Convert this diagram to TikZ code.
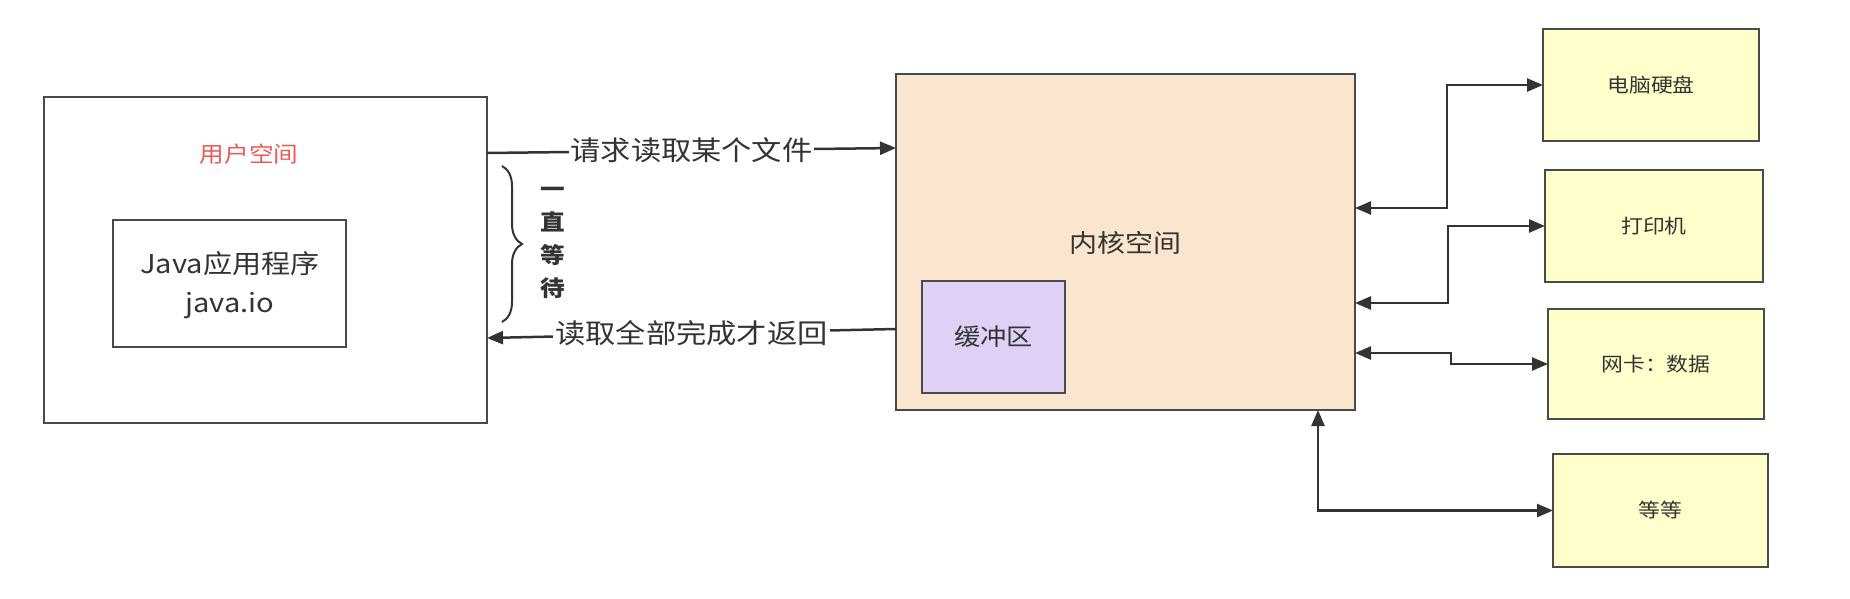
\documentclass[tikz,border=0pt]{standalone}
\usepackage{fontspec}
\setmainfont{Noto Sans CJK SC}[FakeStretch=1.12]
\usetikzlibrary{arrows.meta,decorations.pathreplacing}
\definecolor{kfill}{HTML}{FAE5CE}
\definecolor{yfill}{HTML}{FFFFCC}
\definecolor{pfill}{HTML}{DFD0F5}
\definecolor{edge}{HTML}{4A4A4A}
\definecolor{ink}{HTML}{333333}
\definecolor{redtxt}{HTML}{EA5A56}
\newcommand{\fs}[1]{\fontsize{#1pt}{#1pt}\selectfont}
\tikzset{
  box/.style={draw=edge, line width=2.5pt, inner sep=0pt, outer sep=0pt, text=ink, align=center},
  conn/.style={draw=ink, line width=2.5pt, -{Triangle[length=16pt,width=13pt]}},
  biconn/.style={draw=ink, line width=2.5pt, {Triangle[length=16pt,width=13pt]}-{Triangle[length=16pt,width=13pt]}},
  lbl/.style={fill=white, text=ink, inner sep=2pt, font=\fs{27}},
}
\begin{document}
\begin{tikzpicture}[x=1pt,y=-1pt]
\useasboundingbox (0,0) rectangle (1850,598);
% user space
\node[box, minimum width=443pt, minimum height=326pt] (user) at (265.5,260) {};
\node[text=redtxt, font=\fs{22}] (usertxt) at (249,154) {用户空间};
\node[box, minimum width=233pt, minimum height=127pt] (app) at (229.5,283.5) {};
\node[text=ink, font=\fontsize{26pt}{39pt}\selectfont, align=center, inner sep=0pt] (apptxt) at (230,285) {Java应用程序\\java.io};
% kernel
\node[box, fill=kfill, minimum width=459pt, minimum height=336pt] (kernel) at (1125.5,242) {};
\node[text=ink, font=\fs{25}] (kerneltxt) at (1125,243) {内核空间};
\node[box, fill=pfill, minimum width=143pt, minimum height=112pt, font=\fs{23.5}] (buf) at (993.5,337) {缓冲区};
% devices
\node[box, fill=yfill, minimum width=216pt, minimum height=112pt, font=\fs{19.5}] (hdd) at (1651,85) {电脑硬盘};
\node[box, fill=yfill, minimum width=218pt, minimum height=112pt, font=\fs{19.5}] (prn) at (1654,226) {打印机};
\node[box, fill=yfill, minimum width=216pt, minimum height=110pt, font=\fs{19.5}] (nic) at (1656,364) {网卡：数据};
\node[box, fill=yfill, minimum width=215pt, minimum height=113pt, font=\fs{19.5}] (etc) at (1660.5,510.5) {等等};
% request / return
\draw[conn] (user.east |- 0,153) -- node[lbl] (req) {请求读取某个文件} (kernel.west |- 0,148);
\draw[conn] (kernel.west |- 0,329) -- node[lbl] (ret) {读取全部完成才返回} (user.east |- 0,338);
% brace and waiting text
\draw[draw=ink, line width=2pt, decorate, decoration={brace, amplitude=20pt, aspect=0.5}] (502,166) -- (502,322);
\node[text=ink, font=\bfseries\fontsize{22pt}{33pt}\selectfont, align=center, inner sep=0pt] (wait) at (553,243) {一\\直\\等\\待};
% device connectors
\draw[biconn] (kernel.east |- 0,208) -- (1447,208) |- (hdd.west);
\draw[biconn] (kernel.east |- 0,303) -- (1448,303) |- (prn.west);
\draw[biconn] (kernel.east |- 0,353) -- (1451,353) |- (nic.west);
\draw[biconn] (kernel.south -| 1318,0) |- (etc.west);
\end{tikzpicture}
\end{document}
